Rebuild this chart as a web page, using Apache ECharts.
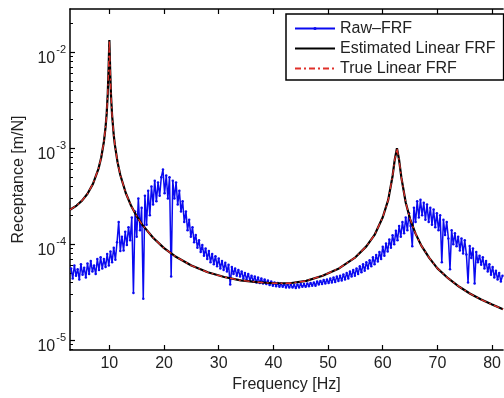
<!DOCTYPE html>
<html><head><meta charset="utf-8">
<script src="https://cdn.jsdelivr.net/npm/echarts@6/dist/echarts.min.js"></script>
<style>html,body{margin:0;padding:0;background:#fff;overflow:hidden}#c{width:504px;height:398px}</style>
</head><body><div id="c"></div>
<script>
// Raw FRF: sampled from 3.0 Hz every 0.3 Hz, values in units of 1e-5 m/N
const rawStart = 3.0, rawStep = 0.3, rawUnit = 1e-5;
const rawFRF = [
 5.6,4.4,6.0,4.7,5.5,4.3,6.2,4.8,5.7,4.5,
 6.3,4.9,6.7,5.2,6.0,4.9,7.0,5.4,7.3,5.6,
 7.0,5.8,7.9,6.0,8.4,6.5,9.2,6.9,10.5,17,
 8.5,12.0,8.6,13.5,9.8,15.0,11.0,19.0,3.1,22,
 12,30,14,24,2.7,32,16,36,20,40,
 26,46,28,44,32,50,60,34,52,30,
 50,4.6,46,30,44,26,36,22,28,17,
 22,14,18,12,15,10.5,12.5,9.2,11,8.3,
 9.8,7.6,9.0,7.0,8.5,6.5,7.9,6.2,7.5,5.9,
 7.1,5.6,6.7,5.4,6.4,5.2,6.1,3.8,5.8,4.9,
 5.6,4.7,5.4,4.6,5.2,4.4,5.0,4.3,4.9,4.2,
 4.7,4.1,4.6,4.0,4.5,3.95,4.4,3.9,4.3,3.85,
 4.2,3.75,4.1,3.7,4.0,3.65,3.95,3.6,3.9,3.6,
 3.85,3.55,3.8,3.55,3.8,3.55,3.75,3.5,3.8,3.55,
 3.85,3.6,3.85,3.6,3.9,3.65,3.95,3.7,4.0,3.7,
 4.1,3.8,4.15,3.85,4.25,3.9,4.3,3.95,4.4,4.0,
 4.5,4.05,4.6,4.15,4.7,4.2,4.85,4.3,5.0,4.4,
 5.2,4.6,5.4,4.7,5.6,4.9,5.9,5.1,6.2,5.3,
 6.5,5.6,6.8,5.9,7.3,6.2,7.7,6.6,8.3,7.0,
 9.4,7.6,10.2,8.4,11.2,9.2,12.4,10.0,13.8,11.0,
 15.5,12.0,17.0,13.0,19.0,14.0,21.0,15.5,9.5,24,
 17,28,19,29,20,27,18,26,17,24,
 16,23,15,21,14,20,6.5,18,12.5,17,
 11.5,5.5,14,10,13,9.5,12,8.6,11.5,8.0,
 11,7.8,4.0,9.6,7.2,9.0,3.9,8.3,6.5,7.6,
 6.1,7.3,5.6,6.7,5.2,6.2,4.8,5.8,4.5,5.3,
 4.3,5.0,4.1,4.7
];
// Linear FRF (estimated = true), frequency [Hz] and receptance [m/N]
const linFreq = [2.8,4,5,6,7,8,8.5,9,9.3,9.5,9.7,9.85,10,10.15,10.3,10.5,10.8,11,11.5,12,13,14,15,16,18,20,22,25,28,31,34,37,40,43,46,49,52,55,57,58.5,60,61,61.8,62.2,62.6,63,63.4,64.2,65,66,67,68.5,70,72,74,76,78,80,82];
const estLinear = [2.29e-4,2.53e-4,2.85e-4,3.36e-4,4.26e-4,6.10e-4,7.96e-4,1.17e-3,1.65e-3,2.26e-3,3.66e-3,6.6e-3,1.34e-2,6.48e-3,3.57e-3,2.21e-3,1.37e-3,1.09e-3,7.13e-4,5.27e-4,3.42e-4,2.50e-4,1.96e-4,1.60e-4,1.17e-4,9.1e-5,7.5e-5,6.0e-5,5.1e-5,4.55e-5,4.2e-5,4.02e-5,3.92e-5,3.92e-5,4.15e-5,4.7e-5,5.6e-5,7.3e-5,9.5e-5,1.25e-4,1.91e-4,2.9e-4,5.15e-4,7.65e-4,1.0e-3,7.5e-4,4.97e-4,2.72e-4,1.83e-4,1.29e-4,9.8e-5,7.2e-5,5.6e-5,4.4e-5,3.6e-5,3.05e-5,2.65e-5,2.35e-5,2.1e-5];
const trueLinear = estLinear.slice();
const xTickValues = [10,20,30,40,50,60,70,80];
const yTickValues = [1e-5,1e-4,1e-3,1e-2];
const yMinorTicks = [8e-6,9e-6,2e-5,3e-5,4e-5,5e-5,6e-5,7e-5,8e-5,9e-5,2e-4,3e-4,4e-4,5e-4,6e-4,7e-4,8e-4,9e-4,2e-3,3e-3,4e-3,5e-3,6e-3,7e-3,8e-3,9e-3,2e-2];
const seriesNames = ['Raw\u2013FRF','Estimated Linear FRF','True Linear FRF'];

const rawData = rawFRF.map((v,i)=>[+(rawStart+i*rawStep).toFixed(2), v*rawUnit]);
const estData = linFreq.map((f,i)=>[f, estLinear[i]]);
const trueData = linFreq.map((f,i)=>[f, trueLinear[i]]);

const font = 'Liberation Sans, Arial, Helvetica, sans-serif';
const txt = '#222';
const chart = echarts.init(document.getElementById('c'), null, {renderer:'canvas'});
const X0 = 2.8, X1 = 82, Y0 = 7.9e-6, Y1 = 2.83e-2;
chart.setOption({
  animation:false,
  backgroundColor:'#fff',
  grid:{left:70, top:9, right:-6, bottom:43},
  legend:{
    orient:'vertical', left:286, top:14,
    padding:[5,8,2,8], itemGap:1, itemWidth:40, itemHeight:4,
    backgroundColor:'#fff', borderColor:'#000', borderWidth:1.5, borderRadius:0,
    textStyle:{fontFamily:font, fontSize:16, color:txt, lineHeight:19},
    data:[
      {name:seriesNames[0]},
      {name:seriesNames[1], itemStyle:{opacity:0}},
      {name:seriesNames[2], itemStyle:{opacity:0}}
    ]
  },
  xAxis:[{
    type:'value', min:X0, max:X1, position:'bottom',
    name:'Frequency [Hz]', nameLocation:'middle', nameGap:27,
    nameTextStyle:{fontFamily:font, fontSize:16, color:txt},
    axisLine:{show:true, onZero:false, lineStyle:{color:'#000', width:1.5}},
    axisTick:{show:true, inside:true, length:5, customValues:xTickValues, lineStyle:{color:'#000', width:1.2}},
    axisLabel:{customValues:xTickValues, fontFamily:font, fontSize:16, color:txt, margin:6},
    splitLine:{show:false}
  },{
    type:'value', min:X0, max:X1, position:'top',
    axisLine:{show:true, onZero:false, lineStyle:{color:'#000', width:1.5}},
    axisTick:{show:true, inside:true, length:5, customValues:xTickValues, lineStyle:{color:'#000', width:1.2}},
    axisLabel:{show:false}, splitLine:{show:false}
  }],
  yAxis:[{
    type:'log', logBase:10, min:Y0, max:Y1, position:'left',
    name:'Receptance [m/N]', nameLocation:'middle', nameGap:35, nameRotate:90,
    nameTextStyle:{fontFamily:font, fontSize:16, color:txt},
    axisLine:{show:true, onZero:false, lineStyle:{color:'#000', width:1.5}},
    axisTick:{show:true, inside:true, length:5, customValues:yTickValues, lineStyle:{color:'#000', width:1.2}},
    axisLabel:{
      customValues:yTickValues, margin:4, padding:[6,0,0,0],
      formatter:function(v){ const e = Math.round(Math.log10(v)); return '{b|10}{s|' + e + '}'; },
      rich:{
        b:{fontFamily:font, fontSize:16, color:txt, verticalAlign:'bottom', lineHeight:22},
        s:{fontFamily:font, fontSize:11, color:txt, verticalAlign:'top', lineHeight:22, padding:[0,0,8,1]}
      }
    },
    splitLine:{show:false}
  },{
    type:'log', logBase:10, min:Y0, max:Y1, position:'left',
    axisLine:{show:false},
    axisTick:{show:true, inside:true, length:3, customValues:yMinorTicks, lineStyle:{color:'#000', width:1}},
    axisLabel:{show:false}, splitLine:{show:false}
  }],
  series:[{
    name:seriesNames[0], type:'line', data:rawData, xAxisIndex:0, yAxisIndex:0,
    symbol:'circle', symbolSize:2.5, showSymbol:true, showAllSymbol:true,
    itemStyle:{color:'#0a0af0'}, lineStyle:{color:'#0a0af0', width:1.5}, z:2
  },{
    name:seriesNames[1], type:'line', data:estData, symbol:'none',
    itemStyle:{color:'#000'}, lineStyle:{color:'#000', width:2.2}, z:3
  },{
    name:seriesNames[2], type:'line', data:trueData, symbol:'none',
    itemStyle:{color:'#e0302a'}, lineStyle:{color:'#e0302a', width:1.3, type:[6,3,2,3]}, z:4
  }]
});
</script></body></html>
